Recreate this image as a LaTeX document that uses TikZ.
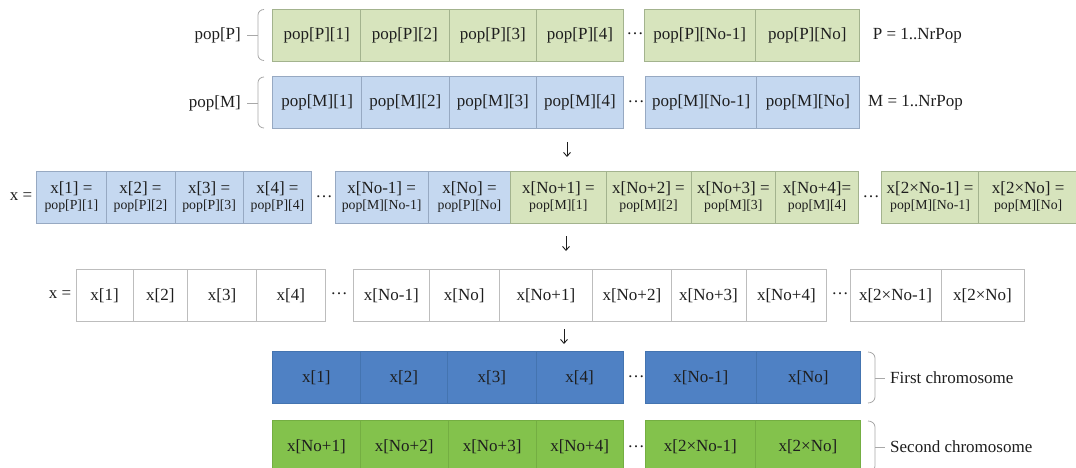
\documentclass[tikz,border=0pt]{standalone}
\usepackage{fontspec}
\setmainfont{Liberation Serif}
\usetikzlibrary{arrows.meta}
\definecolor{txt}{HTML}{1E1E1E}
\definecolor{lgreen}{HTML}{D7E4BD}
\definecolor{lgreenb}{HTML}{A3B38E}
\definecolor{lblue}{HTML}{C5D8F0}
\definecolor{lblueb}{HTML}{97A9C2}
\definecolor{wb}{HTML}{BDBDBD}
\definecolor{dblue}{HTML}{4F81C4}
\definecolor{dblueb}{HTML}{4474B0}
\definecolor{dgreen}{HTML}{83C24C}
\definecolor{dgreenb}{HTML}{74AE42}
\definecolor{brkc}{HTML}{A8A8A8}
\newcommand{\fsA}{\fontsize{17}{19}\selectfont}
\newcommand{\fsB}{\fontsize{13.8}{16}\selectfont}
\newcommand{\cell}[7]{\node[#1, minimum width={#4-#3}, minimum height={#6-#5}] (#2) at (#3,#5) {#7};}
\tikzset{
  base/.style={draw, anchor=north west, inner sep=0pt, outer sep=0pt, font=\fsA, text=txt, line width=0.7pt, align=center},
  pcell/.style={base, fill=lgreen, draw=lgreenb},
  mcell/.style={base, fill=lblue, draw=lblueb},
  wcell/.style={base, fill=white, draw=wb},
  bcell/.style={base, fill=dblue, draw=dblueb},
  gcell/.style={base, fill=dgreen, draw=dgreenb},
  lbl/.style={font=\fsA, text=txt, inner sep=0pt},
  brk/.style={draw=brkc, line width=0.8pt},
  arr/.style={draw=txt, line width=0.9pt, -{Straight Barb[length=4pt,width=7pt]}}
}
\begin{document}
\begin{tikzpicture}[x=1pt,y=-1pt]
\useasboundingbox (0,0) rectangle (1076,468);
\clip (0,0) rectangle (1076,468);
% ---------- row 1: pop[P]
\cell{pcell}{p1}{272.7}{360.7}{9}{61}{pop[P][1]}
\cell{pcell}{p2}{360.7}{449}{9}{61}{pop[P][2]}
\cell{pcell}{p3}{449}{536.7}{9}{61}{pop[P][3]}
\cell{pcell}{p4}{536.7}{623.3}{9}{61}{pop[P][4]}
\node[lbl] (pdots) at (635,34) {…};
\cell{pcell}{pn1}{644}{755.3}{9}{61}{pop[P][No-1]}
\cell{pcell}{pn}{755.3}{859.3}{9}{61}{pop[P][No]}
\node[lbl, anchor=east] (plab) at (241,35) {pop[P]};
\node[lbl, anchor=west] (prange) at (872.7,36) {P = 1..NrPop};
\draw[brk] (264,9.5) to[out=180,in=90] (258,15) -- (258,55) to[out=-90,in=180] (264,60.5);
\draw[brk] (247,35) -- (258,35);
% ---------- row 2: pop[M]
\cell{mcell}{m1}{272.7}{361.7}{76.7}{128.3}{pop[M][1]}
\cell{mcell}{m2}{361.7}{449}{76.7}{128.3}{pop[M][2]}
\cell{mcell}{m3}{449}{536.7}{76.7}{128.3}{pop[M][3]}
\cell{mcell}{m4}{536.7}{623.3}{76.7}{128.3}{pop[M][4]}
\node[lbl] (mdots) at (636,102) {…};
\cell{mcell}{mn1}{645.7}{756.7}{76.7}{128.3}{pop[M][No-1]}
\cell{mcell}{mn}{756.7}{859.3}{76.7}{128.3}{pop[M][No]}
\node[lbl, anchor=east] (mlab) at (241,103) {pop[M]};
\node[lbl, anchor=west] (mrange) at (868,103) {M = 1..NrPop};
\draw[brk] (264,77) to[out=180,in=90] (258,82.5) -- (258,122.5) to[out=-90,in=180] (264,128);
\draw[brk] (247,103) -- (258,103);
% arrow 1
\coordinate (a1s) at (567,142);
\coordinate (a1e) at (567,157);
\draw[arr] (a1s) -- (a1e);
% ---------- row 3: combined x with sources
\node[lbl] (xeq1) at (21,197) {x =};
\cell{mcell}{c1}{36.7}{106}{171.7}{223.3}{x[1] =\\[-3pt]{\fsB pop[P][1]}}
\cell{mcell}{c2}{106}{175}{171.7}{223.3}{x[2] =\\[-3pt]{\fsB pop[P][2]}}
\cell{mcell}{c3}{175}{243.3}{171.7}{223.3}{x[3] =\\[-3pt]{\fsB pop[P][3]}}
\cell{mcell}{c4}{243.3}{311.7}{171.7}{223.3}{x[4] =\\[-3pt]{\fsB pop[P][4]}}
\node[lbl] (cdots1) at (324,197) {…};
\cell{mcell}{cn1}{335}{428.3}{171.7}{223.3}{x[No-1] =\\[-3pt]{\fsB pop[M][No-1]}}
\cell{mcell}{cn}{428.3}{510.7}{171.7}{223.3}{x[No] =\\[-3pt]{\fsB pop[P][No]}}
\cell{pcell}{d1}{510.7}{606}{171.7}{223.3}{x[No+1] =\\[-3pt]{\fsB pop[M][1]}}
\cell{pcell}{d2}{606}{691}{171.7}{223.3}{x[No+2] =\\[-3pt]{\fsB pop[M][2]}}
\cell{pcell}{d3}{691}{775.7}{171.7}{223.3}{x[No+3] =\\[-3pt]{\fsB pop[M][3]}}
\cell{pcell}{d4}{775.7}{858.3}{171.7}{223.3}{x[No+4]=\\[-3pt]{\fsB pop[M][4]}}
\node[lbl] (cdots2) at (871,197) {…};
\cell{pcell}{dn1}{881.7}{978.3}{171.7}{223.3}{x[2×No-1] =\\[-3pt]{\fsB pop[M][No-1]}}
\cell{pcell}{dn}{978.3}{1078}{171.7}{223.3}{x[2×No] =\\[-3pt]{\fsB pop[M][No]}}
% arrow 2
\coordinate (a2s) at (566,236);
\coordinate (a2e) at (566,251);
\draw[arr] (a2s) -- (a2e);
% ---------- row 4: plain x
\node[lbl] (xeq2) at (60,295) {x =};
\cell{wcell}{w1}{76}{133.3}{269.3}{321.7}{x[1]}
\cell{wcell}{w2}{133.3}{187.3}{269.3}{321.7}{x[2]}
\cell{wcell}{w3}{187.3}{256.7}{269.3}{321.7}{x[3]}
\cell{wcell}{w4}{256.7}{325}{269.3}{321.7}{x[4]}
\node[lbl] (wdots1) at (339,294) {…};
\cell{wcell}{wn1}{353.3}{429.3}{269.3}{321.7}{x[No-1]}
\cell{wcell}{wn}{429.3}{499}{269.3}{321.7}{x[No]}
\cell{wcell}{w5}{499}{592.7}{269.3}{321.7}{x[No+1]}
\cell{wcell}{w6}{592.7}{671}{269.3}{321.7}{x[No+2]}
\cell{wcell}{w7}{671}{746}{269.3}{321.7}{x[No+3]}
\cell{wcell}{w8}{746}{826.7}{269.3}{321.7}{x[No+4]}
\node[lbl] (wdots2) at (840,294) {…};
\cell{wcell}{wm1}{850}{941}{269.3}{321.7}{x[2×No-1]}
\cell{wcell}{wm}{941}{1024}{269.3}{321.7}{x[2×No]}
% arrow 3
\coordinate (a3s) at (564,329);
\coordinate (a3e) at (564,344);
\draw[arr] (a3s) -- (a3e);
% ---------- row 5: first chromosome
\cell{bcell}{b1}{272.7}{360}{351.7}{403.3}{x[1]}
\cell{bcell}{b2}{360}{447.7}{351.7}{403.3}{x[2]}
\cell{bcell}{b3}{447.7}{536}{351.7}{403.3}{x[3]}
\cell{bcell}{b4}{536}{623.3}{351.7}{403.3}{x[4]}
\node[lbl] (bdots) at (636,377) {…};
\cell{bcell}{bn1}{645}{756.7}{351.7}{403.3}{x[No-1]}
\cell{bcell}{bn}{756.7}{860}{351.7}{403.3}{x[No]}
\draw[brk] (868,352) to[out=0,in=90] (875,358) -- (875,397) to[out=-90,in=0] (868,403);
\draw[brk] (875,378) -- (885,378);
\node[lbl, anchor=west] (first) at (890,378) {First chromosome};
% ---------- row 6: second chromosome
\cell{gcell}{g1}{272.7}{360}{420.7}{472}{x[No+1]}
\cell{gcell}{g2}{360}{448.3}{420.7}{472}{x[No+2]}
\cell{gcell}{g3}{448.3}{536}{420.7}{472}{x[No+3]}
\cell{gcell}{g4}{536}{623.3}{420.7}{472}{x[No+4]}
\node[lbl] (gdots) at (636,447) {…};
\cell{gcell}{gn1}{645}{755.7}{420.7}{472}{x[2×No-1]}
\cell{gcell}{gn}{755.7}{860}{420.7}{472}{x[2×No]}
\draw[brk] (868,421) to[out=0,in=90] (875,427) -- (875,466) to[out=-90,in=0] (868,472);
\draw[brk] (875,447) -- (885,447);
\node[lbl, anchor=west] (second) at (890,447) {Second chromosome};
\end{tikzpicture}
\end{document}
